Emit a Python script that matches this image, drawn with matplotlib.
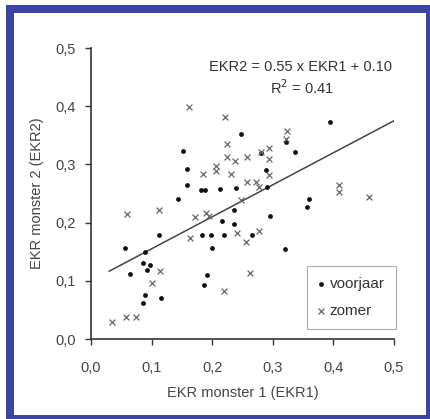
import matplotlib
matplotlib.use("Agg")
import matplotlib.pyplot as plt
from matplotlib.patches import Rectangle
from matplotlib.ticker import FuncFormatter

plt.rcParams['font.family'] = ['Liberation Sans', 'DejaVu Sans']

# spring samples (dots)
voorjaar_x = [0.152, 0.158, 0.158, 0.143, 0.181, 0.188, 0.213, 0.248, 0.322, 0.395,
              0.337, 0.280, 0.289, 0.240, 0.291, 0.236, 0.360, 0.356, 0.295, 0.113,
              0.056, 0.089, 0.086, 0.097, 0.092, 0.064, 0.089, 0.085, 0.115, 0.183,
              0.198, 0.200, 0.192, 0.186, 0.216, 0.236, 0.219, 0.265, 0.320]
voorjaar_y = [0.323, 0.292, 0.265, 0.241, 0.256, 0.256, 0.258, 0.352, 0.338, 0.372,
              0.322, 0.319, 0.290, 0.259, 0.262, 0.222, 0.241, 0.227, 0.212, 0.178,
              0.157, 0.150, 0.131, 0.127, 0.119, 0.111, 0.076, 0.061, 0.070, 0.179,
              0.178, 0.156, 0.110, 0.093, 0.203, 0.198, 0.178, 0.179, 0.154]

# summer samples (crosses)
zomer_x = [0.161, 0.184, 0.207, 0.207, 0.059, 0.112, 0.221, 0.225, 0.323, 0.322,
           0.294, 0.280, 0.293, 0.224, 0.238, 0.258, 0.231, 0.294, 0.258, 0.272,
           0.278, 0.248, 0.410, 0.410, 0.459, 0.114, 0.100, 0.057, 0.074, 0.034,
           0.163, 0.171, 0.190, 0.195, 0.241, 0.256, 0.278, 0.262, 0.219]
zomer_y = [0.398, 0.283, 0.297, 0.288, 0.215, 0.221, 0.382, 0.335, 0.357, 0.343,
           0.329, 0.322, 0.310, 0.312, 0.306, 0.312, 0.283, 0.282, 0.269, 0.269,
           0.261, 0.239, 0.265, 0.253, 0.244, 0.117, 0.096, 0.037, 0.037, 0.030,
           0.174, 0.209, 0.216, 0.211, 0.182, 0.167, 0.185, 0.114, 0.083]

slope = 0.55
intercept = 0.10
fit_x = [0.03, 0.50]
ticks = [0.0, 0.1, 0.2, 0.3, 0.4, 0.5]

fig = plt.figure(figsize=(4.30, 4.19), dpi=100)
fig.patch.set_facecolor('white')

# blue frame around the chart
blue = '#3b44a0'
fig.patches.append(Rectangle((6 / 430, 0), 8 / 430, 414 / 419, transform=fig.transFigure,
                             facecolor=blue, edgecolor='none'))
fig.patches.append(Rectangle((6 / 430, 406 / 419), 424 / 430, 8 / 419, transform=fig.transFigure,
                             facecolor=blue, edgecolor='none'))
fig.patches.append(Rectangle((426 / 430, 0), 4 / 430, 414 / 419, transform=fig.transFigure,
                             facecolor=blue, edgecolor='none'))
fig.patches.append(Rectangle((6 / 430, 0), 424 / 430, 4 / 419, transform=fig.transFigure,
                             facecolor=blue, edgecolor='none'))

ax = fig.add_axes([91 / 430, 80 / 419, 303 / 430, 291 / 419])

ax.scatter(voorjaar_x, voorjaar_y, marker='o', s=12, color='#111111', linewidths=0,
           label='voorjaar', zorder=3)
ax.scatter(zomer_x, zomer_y, marker='x', s=18, color='#666666', linewidths=0.9,
           label='zomer', zorder=3)

fit_y = [slope * v + intercept for v in fit_x]
ax.plot(fit_x, fit_y, color='#444444', lw=1.1, zorder=2)

ax.text(0.69, 0.935, 'EKR2 = 0.55 x EKR1 + 0.10', transform=ax.transAxes,
        ha='center', va='center', fontsize=10.5, color='#333333')
ax.text(0.695, 0.865, 'R$^2$ = 0.41', transform=ax.transAxes,
        ha='center', va='center', fontsize=10.5, color='#333333')

ax.set_xlim(0, 0.5)
ax.set_ylim(0, 0.5)
ax.set_xticks(ticks)
ax.set_yticks(ticks)
fmt = FuncFormatter(lambda v, p: f'{v:.1f}'.replace('.', ','))
ax.xaxis.set_major_formatter(fmt)
ax.yaxis.set_major_formatter(fmt)
ax.tick_params(direction='out', length=4, width=1, colors='#333333',
               labelsize=10.5, labelcolor='#444444')
ax.tick_params(axis='x', pad=12)
ax.tick_params(axis='y', pad=7)

for side in ['top', 'right']:
    ax.spines[side].set_visible(False)
for side in ['left', 'bottom']:
    ax.spines[side].set_color('#333333')
    ax.spines[side].set_linewidth(1.2)

ax.set_xlabel('EKR monster 1 (EKR1)', fontsize=10.5, color='#444444', labelpad=8)
ax.set_ylabel('EKR monster 2 (EKR2)', fontsize=10.5, color='#444444', labelpad=8)

leg = ax.legend(loc='lower right', bbox_to_anchor=(1.005, 0.034), frameon=True,
                fancybox=False, edgecolor='#999999', fontsize=11, labelspacing=0.9,
                handlelength=0.5, handletextpad=0.3, borderpad=0.7, borderaxespad=0)
leg.get_frame().set_linewidth(0.8)
for t in leg.get_texts():
    t.set_color('#333333')

fig.savefig('out.png', dpi=100, facecolor='white')
